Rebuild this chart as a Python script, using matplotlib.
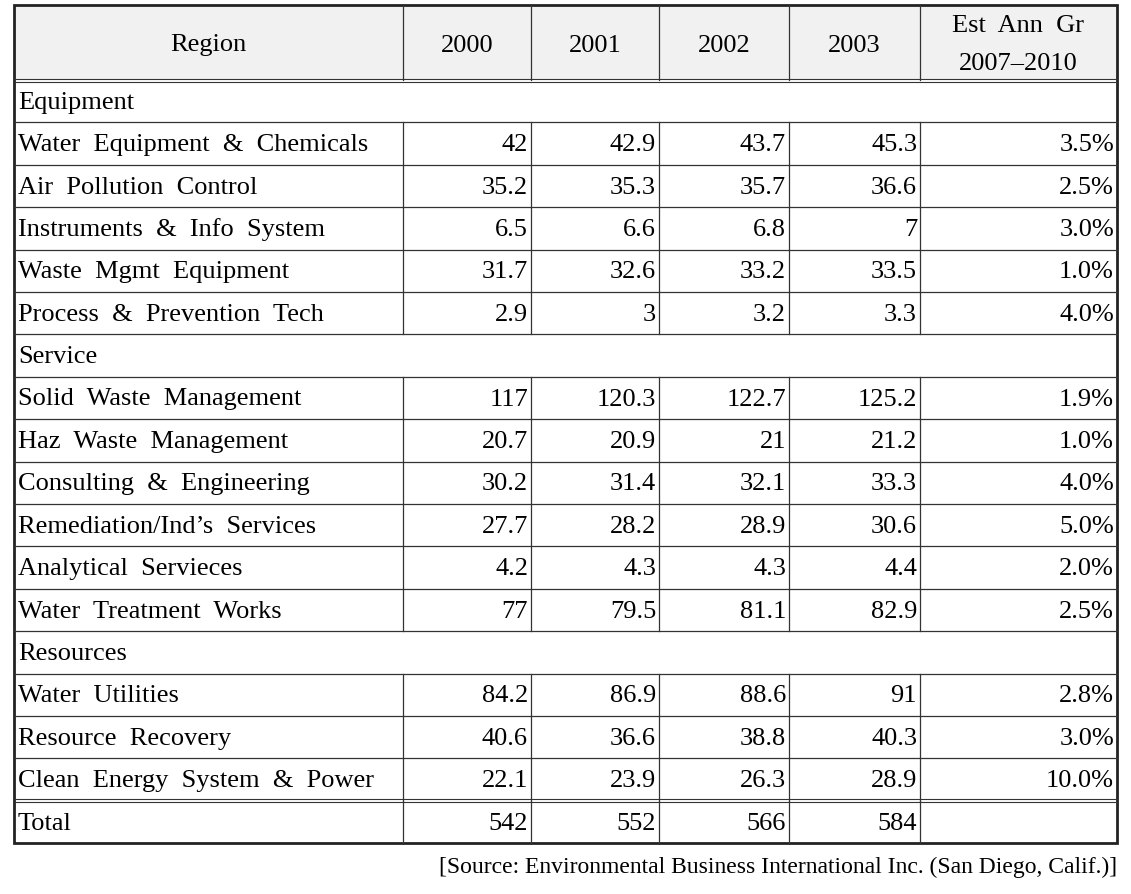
import matplotlib
matplotlib.use("Agg")
import matplotlib.pyplot as plt

columns = ["Region", "2000", "2001", "2002", "2003", "Est Ann Gr\n2007-2010"]

# rows: (label, values) ; values None -> section header row
rows = [
    ("Equipment", None),
    ("Water Equipment & Chemicals", ["42", "42.9", "43.7", "45.3", "3.5%"]),
    ("Air Pollution Control", ["35.2", "35.3", "35.7", "36.6", "2.5%"]),
    ("Instruments & Info System", ["6.5", "6.6", "6.8", "7", "3.0%"]),
    ("Waste Mgmt Equipment", ["31.7", "32.6", "33.2", "33.5", "1.0%"]),
    ("Process & Prevention Tech", ["2.9", "3", "3.2", "3.3", "4.0%"]),
    ("Service", None),
    ("Solid Waste Management", ["117", "120.3", "122.7", "125.2", "1.9%"]),
    ("Haz Waste Management", ["20.7", "20.9", "21", "21.2", "1.0%"]),
    ("Consulting & Engineering", ["30.2", "31.4", "32.1", "33.3", "4.0%"]),
    ("Remediation/Ind\u2019s Services", ["27.7", "28.2", "28.9", "30.6", "5.0%"]),
    ("Analytical Servieces", ["4.2", "4.3", "4.3", "4.4", "2.0%"]),
    ("Water Treatment Works", ["77", "79.5", "81.1", "82.9", "2.5%"]),
    ("Resources", None),
    ("Water Utilities", ["84.2", "86.9", "88.6", "91", "2.8%"]),
    ("Resource Recovery", ["40.6", "36.6", "38.8", "40.3", "3.0%"]),
    ("Clean Energy System & Power", ["22.1", "23.9", "26.3", "28.9", "10.0%"]),
    ("Total", ["542", "552", "566", "584", ""]),
]

source = "[Source: Environmental Business International Inc. (San Diego, Calif.)]"

# layout in pixels
col_x = [14, 403, 531, 659, 789, 920, 1117]
top, head_h, row_h = 5, 75, 42.4
fs = 19
font = "Liberation Serif"
lc = "#333333"


def wide(s):
    # the original font has wide word spaces
    return s.replace(" ", "  ")


fig = plt.figure(figsize=(11.31, 8.94), dpi=100)
ax = fig.add_axes([0, 0, 1, 1])
ax.set_xlim(0, 1131)
ax.set_ylim(894, 0)
ax.axis("off")

bottom = top + head_h + row_h * len(rows)

# header background
ax.add_patch(plt.Rectangle((col_x[0], top), col_x[-1] - col_x[0], head_h,
                           facecolor="#f1f1f1", edgecolor="none"))

# header texts
for i, c in enumerate(columns):
    xc = (col_x[i] + col_x[i + 1]) / 2
    if "\n" in c:
        a, b = c.split("\n")
        ax.text(xc, top + 21, wide(a), ha="center", va="center", fontsize=fs, family=font)
        ax.text(xc, top + 59, b.replace("-", "\u2013"), ha="center", va="center", fontsize=fs, family=font)
    else:
        ax.text(xc, top + head_h / 2 + 3, c, ha="center", va="center", fontsize=fs, family=font)

# header vertical lines
for x in col_x[1:-1]:
    ax.plot([x, x], [top, top + head_h], color=lc, lw=0.9)

# double line under header
y0 = top + head_h
ax.plot([col_x[0], col_x[-1]], [y0 - 1.5, y0 - 1.5], color=lc, lw=0.8)
ax.plot([col_x[0], col_x[-1]], [y0 + 1.5, y0 + 1.5], color=lc, lw=0.8)

for r, (label, vals) in enumerate(rows):
    ya = y0 + r * row_h
    yc = ya + row_h / 2 + 1.5
    ax.text(col_x[0] + 4, yc, wide(label), ha="left", va="center", fontsize=fs, family=font)
    if vals is not None:
        for j, v in enumerate(vals):
            ax.text(col_x[j + 2] - 3, yc, v, ha="right", va="center", fontsize=fs, family=font)
        for x in col_x[1:-1]:
            ax.plot([x, x], [ya, ya + row_h], color=lc, lw=0.9)
    if r > 0:
        if label == "Total":
            ax.plot([col_x[0], col_x[-1]], [ya - 1.5, ya - 1.5], color=lc, lw=0.8)
            ax.plot([col_x[0], col_x[-1]], [ya + 1.5, ya + 1.5], color=lc, lw=0.8)
        else:
            ax.plot([col_x[0], col_x[-1]], [ya, ya], color=lc, lw=0.9)

# outer border
ax.add_patch(plt.Rectangle((col_x[0], top), col_x[-1] - col_x[0], bottom - top,
                           facecolor="none", edgecolor="#222222", lw=2))

ax.text(col_x[-1], bottom + 24, source, ha="right", va="center",
        fontsize=17, family=font)

fig.savefig("out.png", dpi=100)
